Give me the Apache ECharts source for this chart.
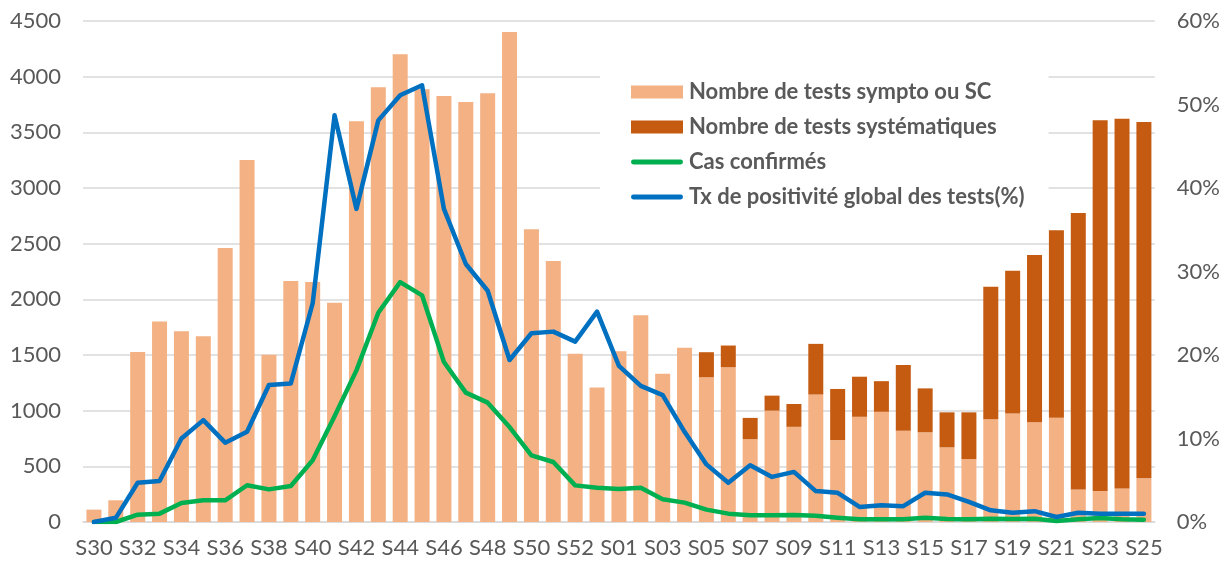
<!DOCTYPE html>
<html>
<head>
<meta charset="utf-8">
<script src="https://cdn.jsdelivr.net/npm/echarts@6/dist/echarts.min.js"></script>
<style>
html,body{margin:0;padding:0;background:#fff;}
#chart{width:1223px;height:562px;}
</style>
</head>
<body>
<div id="chart"></div>
<script>
var categories = ['S30','S31','S32','S33','S34','S35','S36','S37','S38','S39','S40','S41','S42','S43','S44','S45','S46','S47','S48','S49','S50','S51','S52','S53',
  'S01','S02','S03','S04','S05','S06','S07','S08','S09','S10','S11','S12','S13','S14','S15','S16','S17','S18','S19','S20','S21','S22','S23','S24','S25'];

var symptoTests = [111,195,1527,1802,1713,1668,2461,3251,1503,2165,2156,1970,3599,3904,4201,3886,3826,3772,3850,4401,2629,2344,1512,1207,
  1533,1856,1332,1566,1300,1390,745,1000,855,1145,735,945,990,820,805,670,565,922,975,895,937,293,278,302,392];

var systematicTests = [0,0,0,0,0,0,0,0,0,0,0,0,0,0,0,0,0,0,0,0,0,0,0,0,
  0,0,0,0,225,195,190,135,205,455,460,360,275,590,395,315,420,1190,1282,1503,1683,2482,3330,3321,3201];

var confirmedCases = [0,0,66,75,170,195,195,330,293,323,554,950,1362,1880,2155,2036,1437,1162,1072,853,599,539,329,308,
  296,308,204,174,111,75,60,60,63,57,39,24,24,24,39,27,24,30,27,30,9,24,36,24,21];

var positivityRate = [0,0.5,4.7,4.9,10.0,12.2,9.5,10.8,16.4,16.6,26.2,48.7,37.5,48.1,51.1,52.3,37.5,30.9,27.7,19.4,22.6,22.8,21.6,25.2,
  18.7,16.3,15.2,10.8,6.9,4.7,6.8,5.4,6.0,3.7,3.5,1.8,2.0,1.9,3.5,3.3,2.4,1.4,1.1,1.3,0.6,1.1,1.0,1.0,1.0];

var leftTicks = {min:0, max:4500, interval:500};
var rightTicks = {min:0, max:60, interval:10};

var names = ['Nombre de tests sympto ou SC','Nombre de tests systématiques','Cas confirmés','Tx de positivité global des tests(%)'];

var FONT = 'Lato';
var pill = 'path://M2.5,0 L51.5,0 A2.5,2.5 0 0 1 51.5,5 L2.5,5 A2.5,2.5 0 0 1 2.5,0 Z';
var chart = echarts.init(document.getElementById('chart'), null, {renderer:'canvas'});
chart.setOption({
  animation:false,
  backgroundColor:'#ffffff',
  textStyle:{fontFamily:FONT},
  grid:{left:83, right:66, top:21, bottom:40, containLabel:false},
  legend:{
    orient:'vertical',
    left:600, top:69,
    padding:[12,24,12,31],
    backgroundColor:'#ffffff',
    itemWidth:52, itemHeight:13, itemGap:13,
    symbolKeepAspect:true,
    textStyle:{fontFamily:FONT, fontSize:22, fontWeight:'bold', color:'#595959', padding:[0,0,0,1]},
    data:[
      {name:names[0], icon:'rect'},
      {name:names[1], icon:'rect'},
      {name:names[2], icon:pill, itemStyle:{color:'#00B050'}},
      {name:names[3], icon:pill, itemStyle:{color:'#0070C0'}}
    ]
  },
  xAxis:{
    type:'category',
    data:categories,
    boundaryGap:true,
    axisTick:{show:false},
    axisLine:{lineStyle:{color:'#D9D9D9', width:1.5}},
    axisLabel:{interval:1, color:'#595959', fontSize:22, fontFamily:FONT, margin:15}
  },
  yAxis:[
    {
      type:'value', min:leftTicks.min, max:leftTicks.max, interval:leftTicks.interval,
      axisLine:{show:false}, axisTick:{show:false},
      splitLine:{lineStyle:{color:'#D9D9D9', width:1.5}},
      axisLabel:{color:'#595959', fontSize:22, fontFamily:FONT, margin:22, formatter:function(v){return String(v);}}
    },
    {
      type:'value', min:rightTicks.min, max:rightTicks.max, interval:rightTicks.interval,
      axisLine:{show:false}, axisTick:{show:false},
      splitLine:{show:false},
      axisLabel:{color:'#595959', fontSize:22, fontFamily:FONT, margin:22, formatter:'{value}%'}
    }
  ],
  series:[
    {
      name:names[0], type:'bar', stack:'tests', data:symptoTests, barWidth:15,
      itemStyle:{color:'#F4B183'}
    },
    {
      name:names[1], type:'bar', stack:'tests', data:systematicTests, barWidth:15,
      itemStyle:{color:'#C55A11'}
    },
    {
      name:names[2], type:'line', yAxisIndex:0, data:confirmedCases,
      symbol:'none', smooth:false,
      lineStyle:{color:'#00B050', width:4.5, cap:'round', join:'round'},
      itemStyle:{color:'#00B050'}
    },
    {
      name:names[3], type:'line', yAxisIndex:1, data:positivityRate,
      symbol:'none', smooth:false,
      lineStyle:{color:'#0070C0', width:4.5, cap:'round', join:'round'},
      itemStyle:{color:'#0070C0'}
    }
  ]
});
</script>
</body>
</html>
